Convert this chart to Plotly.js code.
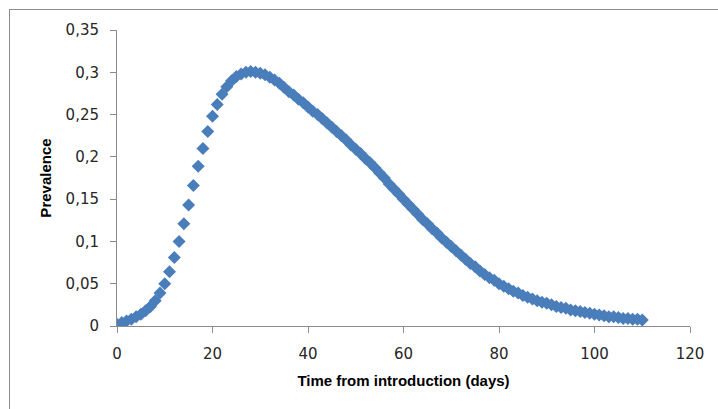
<!DOCTYPE html>
<html>
<head>
<meta charset="utf-8">
<script src="https://cdn.plot.ly/plotly-3.0.1.min.js"></script>
<style>
  html, body { margin: 0; padding: 0; background: #fff; overflow: hidden; }
  #chart { position: absolute; left: 0; top: 0; width: 718px; height: 409px; }
  #frame { position: absolute; left: 9px; top: 9px; width: 800px; height: 500px; border: 1px solid #8c8c8c; pointer-events: none; }
</style>
</head>
<body>
<div id="chart"></div>
<div id="frame"></div>
<script>
// Time from introduction (days)
const days = [];
for (let d = 0; d <= 110; d++) days.push(d);

// Prevalence, one value per day
const prevalence = [
  0.002, 0.004, 0.006, 0.008, 0.011, 0.014, 0.018, 0.023, 0.030, 0.039,
  0.050, 0.064, 0.081, 0.100, 0.121, 0.143, 0.166, 0.189, 0.210, 0.230,
  0.248, 0.262, 0.274, 0.283, 0.290, 0.295, 0.298, 0.300, 0.301, 0.300,
  0.299, 0.297, 0.294, 0.291, 0.287, 0.282, 0.277, 0.273, 0.268, 0.264,
  0.259, 0.254, 0.250, 0.245, 0.240, 0.235, 0.230, 0.225, 0.220, 0.214,
  0.209, 0.204, 0.198, 0.193, 0.187, 0.181, 0.175, 0.168, 0.162, 0.156,
  0.150, 0.144, 0.138, 0.132, 0.126, 0.121, 0.115, 0.110, 0.104, 0.099,
  0.094, 0.089, 0.084, 0.079, 0.074, 0.070, 0.065, 0.061, 0.057, 0.054,
  0.050, 0.047, 0.044, 0.041, 0.039, 0.036, 0.034, 0.032, 0.030, 0.028,
  0.027, 0.025, 0.023, 0.022, 0.021, 0.019, 0.018, 0.017, 0.016, 0.015,
  0.014, 0.013, 0.012, 0.011, 0.011, 0.010, 0.009, 0.009, 0.008, 0.008,
  0.007
];

const xTicks = [0, 20, 40, 60, 80, 100, 120];
const yTicks = [0, 0.05, 0.1, 0.15, 0.2, 0.25, 0.3, 0.35];
const xTitle = 'Time from introduction (days)';
const yTitle = 'Prevalence';

const axisColor = '#8c8c8c';
const tickFont = { family: 'DejaVu Sans', size: 15, color: '#262626' };
const titleFont = { family: 'Liberation Sans', size: 15, color: '#000', weight: 'bold' };

const trace = {
  x: days,
  y: prevalence,
  type: 'scatter',
  mode: 'markers',
  marker: { symbol: 'diamond', size: 10, color: '#4a7ebb', line: { width: 0 } },
  hoverinfo: 'x+y'
};

const layout = {
  width: 718,
  height: 409,
  separators: ', ',
  paper_bgcolor: '#fff',
  plot_bgcolor: '#fff',
  showlegend: false,
  margin: { l: 116.5, r: 27.5, t: 29.5, b: 83, pad: 0 },
  xaxis: {
    range: [0, 120],
    tickvals: xTicks,
    ticktext: xTicks.map(String),
    showgrid: false,
    zeroline: false,
    showline: true,
    linecolor: axisColor,
    linewidth: 1,
    ticks: 'outside',
    ticklen: 6,
    tickcolor: axisColor,
    tickfont: tickFont,
    ticklabelstandoff: 8,
    title: { text: xTitle, font: titleFont, standoff: 13 }
  },
  yaxis: {
    range: [0, 0.35],
    tickvals: yTicks,
    showgrid: false,
    zeroline: false,
    showline: true,
    linecolor: axisColor,
    linewidth: 1,
    ticks: 'outside',
    ticklen: 6,
    tickcolor: axisColor,
    tickfont: tickFont,
    ticklabelstandoff: 8,
    title: { text: yTitle, font: titleFont, standoff: 10 }
  }
};

Plotly.newPlot('chart', [trace], layout, { displayModeBar: false, staticPlot: true });
</script>
</body>
</html>
